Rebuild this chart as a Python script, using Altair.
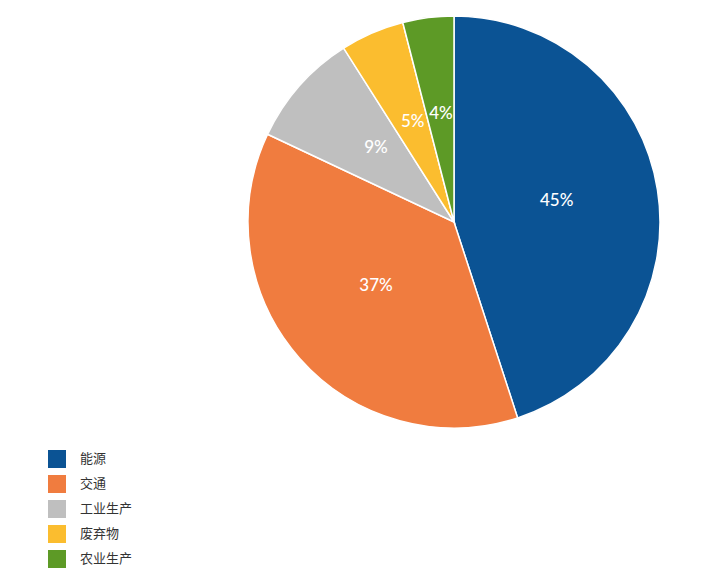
import altair as alt
import pandas as pd

categories = ["能源", "交通", "工业生产", "废弃物", "农业生产"]
values = [45, 37, 9, 5, 4]
labels = ["45%", "37%", "9%", "5%", "4%"]
colors = ["#0b5394", "#f07c3f", "#bfbfbf", "#fbbd2f", "#5d9a26"]

df = pd.DataFrame({
    "category": categories,
    "value": values,
    "label": labels,
    "order": list(range(len(categories))),
})

base = alt.Chart(df).encode(
    theta=alt.Theta("value:Q", stack=True),
    order=alt.Order("order:Q"),
)

pie = base.mark_arc(outerRadius=206, stroke="white", strokeWidth=1.5).encode(
    color=alt.Color(
        "category:N",
        sort=categories,
        scale=alt.Scale(domain=categories, range=colors),
        legend=alt.Legend(
            title=None,
            orient="none",
            legendX=-200,
            legendY=434,
            symbolType="square",
            symbolSize=324,
            symbolStrokeWidth=0,
            symbolOpacity=1,
            rowPadding=7,
            labelOffset=14,
            labelFontSize=13,
            labelFont="Noto Sans CJK SC",
            labelColor="#333333",
        ),
    )
)

text = base.mark_text(
    radius=104, dy=-5, color="white", fontSize=17, fontWeight=500, font="Lato"
).encode(text="label:N")

chart = (pie + text).properties(
    width=412,
    height=412,
    padding={"left": 240, "top": 8, "right": 40, "bottom": 140},
    autosize=alt.AutoSizeParams(type="none"),
    background="white",
).configure_view(stroke=None)

chart.save("out.html", embed_options={"renderer": "svg", "actions": False})
